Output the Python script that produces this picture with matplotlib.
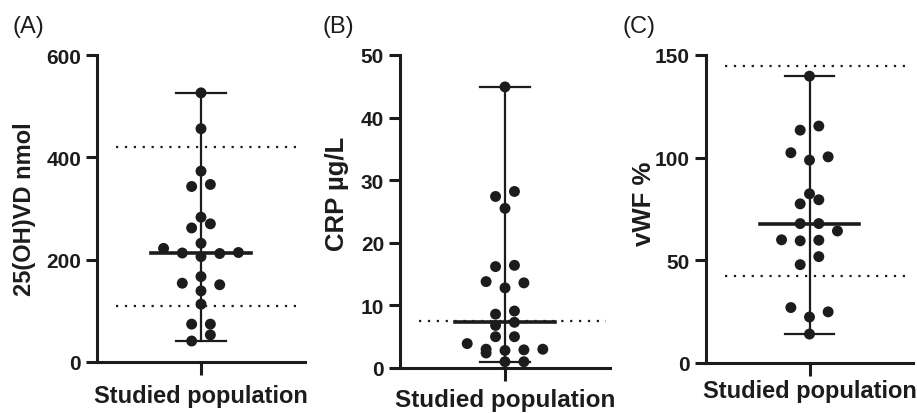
import matplotlib

matplotlib.use("Agg")
import matplotlib.pyplot as plt
import numpy as np

plt.rcParams["font.family"] = ["Liberation Sans", "DejaVu Sans"]
plt.rcParams["font.weight"] = "bold"

# values
vd_values = [526, 456, 373, 347, 343, 283, 270, 262, 232, 222, 214, 213,
             212, 206, 167, 154, 151, 139, 113, 74, 74, 53, 41]
vd_reference = [421, 109]

crp_values = [44.9, 28.2, 27.4, 25.5, 16.4, 16.2, 13.8, 13.6, 12.8, 9.1,
              8.6, 7.3, 6.8, 5.0, 5.0, 3.9, 3.0, 3.0, 2.9, 2.8, 2.4, 1.0, 1.0]
crp_reference = [7.5]

vwf_values = [139.7, 115.4, 113.4, 102.4, 100.4, 98.8, 82.4, 79.5, 77.5,
              67.9, 67.9, 64.3, 60.0, 59.8, 59.5, 51.8, 47.9, 27.0, 24.9,
              22.4, 14.1]
vwf_reference = [144.6, 42.2]

panel_letters = ["(A)", "(B)", "(C)"]
y_labels = ["25(OH)VD nmol", "CRP µg/L", "vWF %"]
y_ticks = [[0, 200, 400, 600], [0, 10, 20, 30, 40, 50], [0, 50, 100, 150]]
group_name = "Studied population"

ink = "#1e1b1c"
dpi = 100


def swarm_offsets(values, row_height):
    # GraphPad-like: stack close values in a row, spread the row around the centre
    values = np.asarray(values, dtype=float)
    order = np.argsort(values, kind="stable")
    rows, current = [], [order[0]]
    for idx in order[1:]:
        if values[idx] - values[current[0]] < row_height:
            current.append(idx)
        else:
            rows.append(current)
            current = [idx]
    rows.append(current)

    offsets = np.zeros(len(values))
    for row in rows:
        n = len(row)
        if n % 2:
            slots = [0.0]
            for k in range(1, n // 2 + 1):
                slots += [k, -k]
        else:
            slots = []
            for k in range(n // 2):
                slots += [-(k + 0.5), k + 0.5]
        for idx, s in zip(row, slots):
            offsets[idx] = s
    return offsets


fig = plt.figure(figsize=(917 / dpi, 414 / dpi), dpi=dpi)

# axes boxes in pixels: left, right, bottom (x axis), top
boxes = [(97, 305, 363, 56), (400, 610, 369, 56), (706, 913, 364, 56)]
panels = [
    (vd_values, vd_reference, 19.5, 600),
    (crp_values, crp_reference, 1.6, 50),
    (vwf_values, vwf_reference, 4.9, 150),
]
ylabel_pos = [(-0.35, 0.5), (-0.30, 0.56), (-0.30, 0.52)]
ylabel_size = [17, 18.5, 18.5]
xlabel_size = [17, 17.5, 17]
xlabel_pad = [6.5, 5.5, 2.5]
letter_x = [13, 323, 622]

step = 0.18
for i, (values, refs, row_h, ytop) in enumerate(panels):
    l, r, b, t = boxes[i]
    ax = fig.add_axes([l / 917, 1 - b / 414, (r - l) / 917, (b - t) / 414])

    vals = np.asarray(values)
    xs = swarm_offsets(vals, row_h) * step

    lo, hi, med = vals.min(), vals.max(), np.median(vals)
    ax.plot([0, 0], [lo, hi], color=ink, lw=1.6, zorder=2)
    ax.plot([-0.24, 0.24], [lo, lo], color=ink, lw=1.6, zorder=2)
    ax.plot([-0.24, 0.24], [hi, hi], color=ink, lw=1.6, zorder=2)
    ax.plot([-0.48, 0.48], [med, med], color=ink, lw=2.6, zorder=4)
    ax.scatter(xs, vals, s=62, color=ink, edgecolors="none", zorder=3, clip_on=False)

    for ref in refs:
        ax.axhline(ref, xmin=0.09, xmax=0.98, color=ink, lw=1.6,
                   linestyle=(0, (1, 3)), zorder=1)

    ax.set_xlim(-1, 1)
    ax.set_ylim(0, ytop)
    ax.set_yticks(y_ticks[i])
    ax.set_xticks([0])
    ax.set_xticklabels([group_name], fontsize=xlabel_size[i], fontweight="bold")
    ax.tick_params(axis="y", labelsize=15, direction="out", length=8, width=2.2,
                   pad=3.5, color=ink, labelcolor=ink)
    ax.tick_params(axis="x", direction="out", length=9, width=2.2,
                   pad=xlabel_pad[i], color=ink, labelcolor=ink)
    for lab in ax.get_yticklabels():
        lab.set_fontweight("bold")

    for side in ["top", "right"]:
        ax.spines[side].set_visible(False)
    for side in ["left", "bottom"]:
        ax.spines[side].set_linewidth(2.2)
        ax.spines[side].set_color(ink)

    ax.text(ylabel_pos[i][0], ylabel_pos[i][1], y_labels[i], transform=ax.transAxes,
            rotation=90, ha="center", va="center", fontsize=ylabel_size[i],
            fontweight="bold", color=ink)
    fig.text(letter_x[i] / 917, 1 - 33 / 414, panel_letters[i], fontsize=17,
             fontweight="normal", ha="left", va="baseline", color=ink)

fig.savefig("out.png", dpi=dpi)
